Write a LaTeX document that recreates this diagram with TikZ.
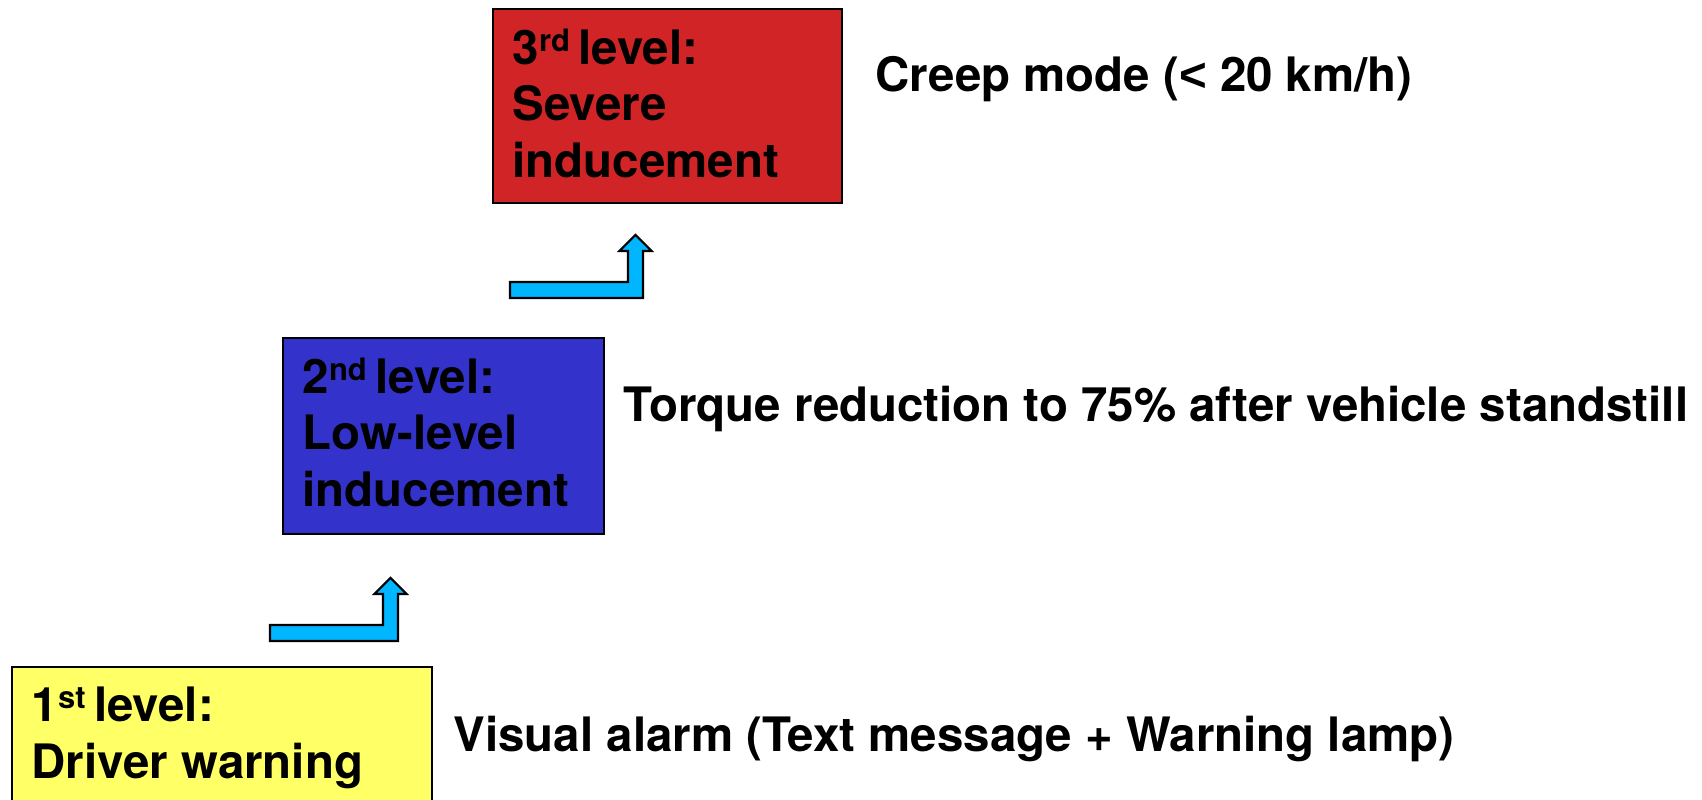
\documentclass[tikz,border=0pt]{standalone}
\usepackage{fontspec}
\setmainfont{TeX Gyre Heros}
\newfontfamily\arialish{Liberation Sans}
\usetikzlibrary{positioning}
\definecolor{lvlyellow}{RGB}{255,255,102}
\definecolor{lvlblue}{RGB}{51,51,204}
\definecolor{lvlred}{RGB}{209,36,38}
\definecolor{stepcyan}{RGB}{0,182,255}
\newcommand{\lvlsup}[1]{\raisebox{0.27em}{\fontsize{8.8pt}{9pt}\selectfont #1}}
\begin{document}
\begin{tikzpicture}
	% picture frame
	\useasboundingbox (0,0) rectangle (17.02,8.00);
	\clip (0,0) rectangle (17.02,8.00);
	% padding of the text inside the boxes
	\def\padx{0.20}
	\def\pady{0.20}
	% node style definition
	\tikzstyle{level} = [draw, line width=0.5pt, rectangle, inner sep=0pt, anchor=north west];
	\tikzstyle{leveltext} = [draw=none, fill=none, inner sep=0pt, anchor=north west, align=left, font=\fontsize{13.5pt}{16.2pt}\selectfont\bfseries];
	\tikzstyle{effect} = [draw=none, fill=none, inner sep=0pt, anchor=base west, font=\fontsize{13.5pt}{16.2pt}\selectfont\bfseries];
	\tikzstyle{bent} = [draw, line width=0.6pt, fill=stepcyan, line join=miter];
	% level boxes
	\node[level, fill=lvlyellow, minimum width=4.20cm, minimum height=1.90cm] (l1) at (0.11,1.34) {};
	\node[level, fill=lvlblue, minimum width=3.21cm, minimum height=1.96cm] (l2) at (2.82,4.63) {};
	\node[level, fill=lvlred, minimum width=3.49cm, minimum height=1.94cm] (l3) at (4.92,7.92) {};
	\node[leveltext] (t1) at ([xshift=\padx cm, yshift=-\pady cm]l1.north west) {1\lvlsup{st }level:\\Driver warning};
	\node[leveltext] (t2) at ([xshift=\padx cm, yshift=-\pady cm]l2.north west) {2\lvlsup{nd }level:\\Low-level\\inducement};
	\node[leveltext] (t3) at ([xshift=\padx cm, yshift=-\pady cm]l3.north west) {3\lvlsup{rd }level:\\Severe\\inducement};
	% what happens at each level
	\node[effect] (e1) at (4.53,0.48) {Visual alarm (Text message + Warning lamp)};
	\node[effect] (e2) at (6.23,3.78) {Torque reduction to 75\% after vehicle standstill};
	\node[effect] (e3) at (8.75,7.08) {Creep mode ({\arialish<} 20 km/h)};
	% bent up arrows between the levels
	\foreach \xa/\xb/\yb in {2.70/3.98/1.59, 5.10/6.43/5.02} {
		\draw[bent] (\xa,\yb) -- (\xb,\yb) -- ++(0,0.47) -- ++(0.085,0) -- ++(-0.16,0.16) -- ++(-0.16,-0.16) -- ++(0.085,0) -- ++(0,-0.31) -- (\xa,\yb+0.16) -- cycle;
	}
\end{tikzpicture}
\end{document}
